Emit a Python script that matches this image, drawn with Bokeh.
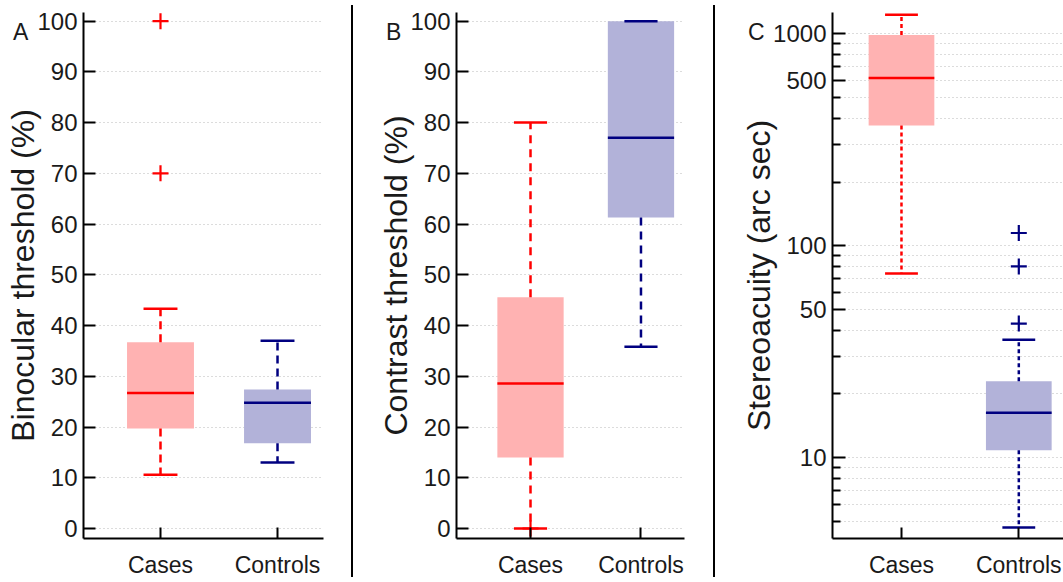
from bokeh.plotting import figure
from bokeh.layouts import row
from bokeh.models import Range1d, FixedTicker, Div
from bokeh.embed import file_html
from bokeh.resources import INLINE

# ---------------- data ----------------
groups = ["Cases", "Controls"]
panel_letters = ["A", "B", "C"]

# Panel A: Binocular threshold (%)
a_q1 = [19.7, 16.8]
a_med = [26.7, 24.8]
a_q3 = [36.7, 27.4]
a_wlo = [10.6, 13.0]
a_whi = [43.3, 37.0]
a_out_group = ["Cases", "Cases"]
a_out_val = [100.0, 70.0]

# Panel B: Contrast threshold (%)
b_q1 = [14.0, 61.3]
b_med = [28.6, 77.0]
b_q3 = [45.6, 100.0]
b_wlo = [0.0, 35.8]
b_whi = [80.0, 100.0]
b_out_group = ["Cases"]
b_out_val = [0.0]

# Panel C: Stereoacuity (arc sec)
c_q1 = [370.0, 10.85]
c_med = [620.0, 16.3]
c_q3 = [990.0, 23.0]
c_wlo = [74.0, 4.69]
c_whi = [1232.0, 36.1]
c_out_group = ["Controls", "Controls", "Controls"]
c_out_val = [115.0, 80.0, 43.0]

lin_ticks = [0, 10, 20, 30, 40, 50, 60, 70, 80, 90, 100]
c_major_ticks = [10, 50, 100, 600, 1000]
c_major_labels = ["10", "50", "100", "500", "1000"]
c_minor_ticks = [5, 6, 7, 8, 9, 20, 30, 40, 60, 70, 80, 90,
                 200, 300, 400, 500, 700, 800, 900]

line_colors = ["#ff0000", "#000080"]
fill_colors = ["#ffb2b2", "#b2b2d9"]

FONT = "Liberation Sans"
TXT = "#1a1a1a"
GRID = "#b8b8b8"


def panel(q1, med, q3, wlo, whi, out_g, out_v, ylabel, xr, yr,
          left, fw, right, box_half, cap_half, dash, log=False):
    p = figure(frame_width=fw, frame_height=526, min_border_left=left,
               min_border_right=right, min_border_top=12, min_border_bottom=44,
               x_range=Range1d(*xr), y_range=Range1d(*yr),
               y_axis_type="log" if log else "linear",
               output_backend="svg", toolbar_location=None,
               background_fill_color="white", border_fill_color="white")
    p.outline_line_color = None
    p.xgrid.grid_line_color = None

    xs = [i + 1 for i in range(len(groups))]
    pos = dict(zip(groups, xs))

    # boxes
    p.vbar(x=xs, width=2 * box_half, bottom=q1, top=q3,
           fill_color=fill_colors, line_color=None)
    # whiskers, caps, medians
    for i, x in enumerate(xs):
        p.segment(x0=[x, x], y0=[q3[i], q1[i]], x1=[x, x], y1=[whi[i], wlo[i]],
                  line_color=line_colors[i], line_width=2.5, line_dash=dash)
        p.segment(x0=[x - cap_half, x - cap_half], y0=[whi[i], wlo[i]],
                  x1=[x + cap_half, x + cap_half], y1=[whi[i], wlo[i]],
                  line_color=line_colors[i], line_width=2.5)
        p.segment(x0=[x - box_half], y0=[med[i]], x1=[x + box_half], y1=[med[i]],
                  line_color=line_colors[i], line_width=2.5)
    # outliers
    ox = [pos[g] for g in out_g]
    oc = [line_colors[groups.index(g)] for g in out_g]
    p.scatter(x=ox, y=out_v, marker="cross", size=16, line_width=2.2,
              line_color=oc)

    # x axis
    p.xaxis.ticker = FixedTicker(ticks=xs)
    p.xaxis.major_label_overrides = {x: g for x, g in zip(xs, groups)}
    p.xaxis.major_tick_in = 11
    p.xaxis.major_tick_out = 0
    p.xaxis.minor_tick_line_color = None
    p.xaxis.major_label_standoff = 13
    p.xaxis.major_label_text_font_size = "23px"

    # y axis
    if log:
        yt = FixedTicker(ticks=c_major_ticks, minor_ticks=c_minor_ticks)
        p.yaxis.ticker = yt
        p.ygrid.ticker = yt
        p.yaxis.major_label_overrides = dict(zip(c_major_ticks, c_major_labels))
        p.yaxis.major_tick_in = 13
        p.yaxis.minor_tick_in = 8
        p.yaxis.minor_tick_out = 0
        p.yaxis.minor_tick_line_color = "black"
        p.yaxis.minor_tick_line_width = 2
        p.ygrid.minor_grid_line_color = GRID
        p.ygrid.minor_grid_line_dash = "1 3"
        p.ygrid.minor_grid_line_width = 1
    else:
        yt = FixedTicker(ticks=lin_ticks)
        p.yaxis.ticker = yt
        p.ygrid.ticker = yt
        p.yaxis.major_tick_in = 12
        p.yaxis.minor_tick_line_color = None
    p.yaxis.major_tick_out = 0
    p.yaxis.major_label_standoff = 6
    p.yaxis.major_label_text_font_size = "24px"
    p.yaxis.axis_label = ylabel
    p.yaxis.axis_label_text_font_size = "32px"
    p.yaxis.axis_label_text_font_style = "normal"
    p.yaxis.axis_label_standoff = -7

    p.ygrid.grid_line_color = GRID
    p.ygrid.grid_line_dash = "1 3"
    p.ygrid.grid_line_width = 1

    for ax in (p.xaxis, p.yaxis):
        ax.axis_line_width = 2
        ax.axis_line_color = "black"
        ax.major_tick_line_width = 2
        ax.major_tick_line_color = "black"
        ax.major_label_text_font = FONT
        ax.major_label_text_color = TXT
        ax.axis_label_text_font = FONT
        ax.axis_label_text_color = TXT
    return p


pa = panel(a_q1, a_med, a_q3, a_wlo, a_whi, a_out_group, a_out_val,
           "Binocular threshold (%)", (0.342, 2.393), (-1.97, 101.7),
           83, 240, 28, 0.286, 0.145, "8 5")
pb = panel(b_q1, b_med, b_q3, b_wlo, b_whi, b_out_group, b_out_val,
           "Contrast threshold (%)", (0.330, 2.394), (-1.97, 101.7),
           103, 228, 29, 0.30, 0.15, "8 6")
pc = panel(c_q1, c_med, c_q3, c_wlo, c_whi, c_out_group, c_out_val,
           "Stereoacuity (arc sec)", (0.412, 2.381), (4.16, 1263),
           117, 231, 0, 0.28, 0.14, "4 3", log=True)


def letter_html(letter, dx):
    return ('<div style="position:absolute;left:%dpx;top:16px;'
            'font-family:\'Liberation Sans\';font-size:23px;line-height:23px;'
            'color:%s;white-space:nowrap;">%s</div>' % (dx, TXT, letter))


sep_style = {"background-color": "black", "overflow": "visible",
             "position": "relative", "z-index": "10"}
sep1 = Div(text=letter_html(panel_letters[0], -338) + letter_html(panel_letters[1], 35),
           width=2, height=572, margin=(5, 0, 0, 0), styles=sep_style)
sep2 = Div(text=letter_html(panel_letters[2], 35),
           width=2, height=572, margin=(5, 0, 0, 0), styles=sep_style)

layout = row(pa, sep1, pb, sep2, pc, spacing=0)
open("out.html", "w").write(file_html(layout, INLINE))
